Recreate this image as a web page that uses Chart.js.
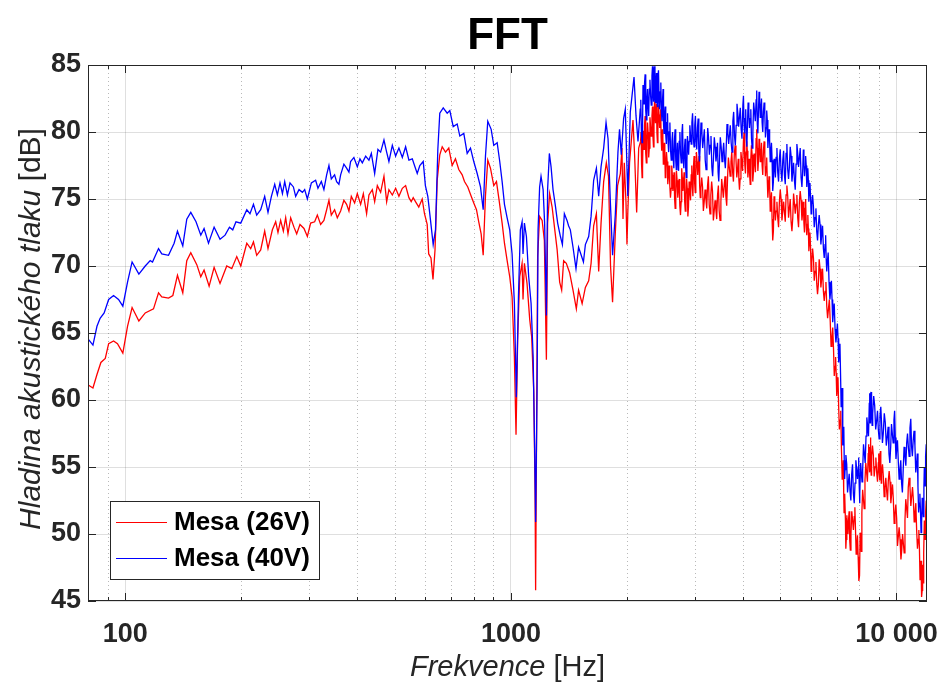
<!DOCTYPE html>
<html lang="cs">
<head>
<meta charset="utf-8">
<title>FFT</title>
<script src="https://cdn.jsdelivr.net/npm/chart.js@4.4.1/dist/chart.umd.min.js"></script>
<style>
  html, body { margin: 0; padding: 0; background: #fff; }
  #fft { display: block; }
</style>
</head>
<body>
<canvas id="fft" width="939" height="684"></canvas>
<script>
'use strict';

// ── DATA ─────────────────────────────────────────────────────

const FREQ_26V = [
  80.3, 82.4, 84.4, 86.4, 88.7, 90.5, 93.2, 95.4, 98.5, 101.3,
  104.1, 108.4, 112.6, 118.3, 121.9, 124.3, 129.4, 132.8, 136.5, 140.9,
  144.3, 147.8, 153.2, 156.9, 160.0, 164.9, 169.9, 176.0, 183.2, 188.8,
  194.5, 199.2, 206.5, 211.4, 214.9, 219.1, 224.4, 229.8, 234.4, 240.6,
  245.4, 248.8, 252.8, 256.9, 260.5, 264.1, 268.4, 273.7, 278.2, 283.7,
  290.6, 296.5, 302.4, 309.7, 314.7, 321.0, 327.3, 332.7, 337.3, 342.1,
  348.9, 354.6, 361.7, 368.8, 374.8, 380.1, 385.5, 393.2, 399.6, 407.6,
  414.2, 422.4, 428.3, 437.0, 443.2, 450.3, 459.3, 468.5, 476.1, 482.6,
  492.5, 502.3, 512.3, 522.8, 533.2, 543.8, 551.3, 557.9, 565.6, 576.8,
  588.7, 596.8, 606.5, 612.0, 620.4, 627.9, 635.5, 643.9, 653.9, 663.4,
  676.6, 690.0, 704.2, 718.0, 732.5, 747.5, 757.8, 772.9, 788.8, 801.0,
  814.1, 825.2, 837.1, 847.4, 858.9, 870.9, 885.0, 902.6, 917.3, 932.0,
  948.9, 962.2, 977.7, 992.9, 1007, 1021, 1031, 1041, 1054, 1069,
  1075, 1084, 1101, 1119, 1132, 1146, 1155, 1159, 1166, 1173,
  1187, 1205, 1221, 1236, 1245, 1260, 1279, 1297, 1318, 1338,
  1354, 1370, 1392, 1420, 1449, 1478, 1498, 1530, 1560, 1591,
  1614, 1639, 1666, 1689, 1713, 1740, 1768, 1791, 1813, 1835,
  1865, 1891, 1922, 1941, 1953, 1968, 1988, 2000, 2010, 2031,
  2052, 2073, 2093, 2119, 2145,
  2169, 2176, 2182, 2189, 2195, 2202, 2208, 2215, 2221, 2229,
  2237, 2245, 2253, 2261, 2269, 2277, 2285, 2294, 2303, 2312,
  2322, 2329, 2336, 2343, 2350, 2357, 2364, 2371, 2378, 2385,
  2392, 2399, 2406, 2414, 2423, 2431, 2440, 2446, 2452, 2458,
  2464, 2471, 2478, 2485, 2493, 2500, 2507, 2514, 2522, 2532,
  2542, 2552, 2562, 2572, 2583, 2593, 2604, 2613, 2622, 2631,
  2640, 2649, 2658, 2667, 2677, 2687, 2698, 2709, 2720, 2731,
  2742, 2753, 2764, 2773, 2783, 2793, 2803, 2813, 2823, 2833,
  2844, 2855, 2866, 2877, 2888, 2899, 2911, 2923, 2935, 2945,
  2955, 2965, 2976, 2986, 2996, 3006, 3017, 3028, 3040, 3052,
  3064, 3075, 3087, 3098, 3110, 3125, 3141, 3156, 3172, 3188,
  3204, 3220, 3236, 3252, 3268, 3284, 3300, 3316, 3333, 3350,
  3367, 3384, 3401, 3418, 3435, 3452, 3469, 3486, 3504, 3521,
  3539, 3556, 3574, 3592, 3610, 3628, 3646, 3665, 3684, 3703,
  3722, 3740, 3759, 3777, 3796, 3815, 3834, 3853, 3873, 3887,
  3902, 3916, 3931, 3950, 3970, 3989, 4009, 4025, 4042, 4058,
  4075, 4089, 4103, 4117, 4132, 4146, 4161, 4175, 4190, 4206,
  4223, 4239, 4256, 4273, 4290, 4307, 4325, 4340, 4355, 4370,
  4385, 4401, 4417, 4433, 4449, 4466, 4483, 4500, 4518, 4536,
  4555, 4573, 4592, 4607, 4623, 4639, 4655, 4671, 4688, 4705,
  4722, 4740, 4758, 4776, 4795, 4814, 4834, 4853, 4873, 4897,
  4921, 4945, 4970, 4995, 5020, 5046, 5072, 5097, 5122, 5147,
  5172, 5197, 5223, 5249, 5275, 5302, 5329, 5356, 5383, 5409,
  5436, 5463, 5490, 5517, 5545, 5572, 5600, 5628, 5657, 5686,
  5715, 5734, 5754, 5773, 5793, 5813, 5833, 5853, 5873, 5890,
  5908, 5926, 5944, 5965, 5986, 6007, 6029, 6060, 6090, 6120,
  6151, 6181, 6211, 6241, 6271, 6303, 6335, 6367, 6399, 6431,
  6464, 6496, 6529, 6562, 6595, 6628, 6662, 6697, 6732, 6767,
  6803, 6834, 6866, 6897, 6929, 6952, 6976, 7000, 7023, 7052,
  7082, 7111, 7141, 7170, 7200, 7231, 7262, 7279, 7296, 7313,
  7330, 7350, 7370, 7390, 7409, 7435, 7460, 7485, 7510, 7537,
  7565, 7592, 7620, 7657, 7695, 7732, 7770, 7800, 7830, 7860,
  7890, 7922, 7955, 7988, 8021, 8049, 8077, 8105, 8133, 8171,
  8209, 8247, 8285, 8325, 8366, 8407, 8448, 8470, 8493, 8515,
  8538, 8559, 8580, 8600, 8621, 8665, 8709, 8753, 8797, 8841,
  8885, 8929, 8974, 8995, 9017, 9039, 9061, 9084, 9107, 9130,
  9153, 9199, 9245, 9291, 9337, 9384, 9431, 9478, 9525, 9573,
  9621, 9670, 9718, 9766, 9814, 9863, 9911, 9960, 10010, 10060,
  10110, 10160, 10215, 10270, 10320, 10370, 10420, 10470, 10520, 10570,
  10625, 10680, 10730, 10785, 10840, 10895, 10950, 11005, 11060, 11115,
  11170, 11225, 11280, 11335, 11390, 11430, 11470, 11510, 11550, 11578,
  11605, 11632, 11660, 11690, 11720, 11750, 11780, 11810, 11840, 11870,
  11900, 11945, 11990,
];

const SPL_26V = [
  61.1, 60.9, 61.9, 62.8, 63.1, 64.2, 64.4, 64.2, 63.5, 65.5,
  66.9, 65.9, 66.5, 66.8, 68.0, 67.7, 67.6, 67.8, 69.3, 68.0,
  70.4, 71.0, 70.1, 69.2, 69.7, 68.5, 69.9, 68.7, 70.0, 69.8,
  70.7, 70.0, 71.7, 71.3, 71.8, 70.8, 71.2, 72.6, 71.3, 72.7,
  73.3, 72.5, 73.4, 72.6, 73.6, 72.4, 73.6, 72.9, 72.4, 73.1,
  72.8, 72.2, 73.2, 73.3, 73.8, 73.1, 73.4, 74.2, 74.9, 73.8,
  74.2, 73.6, 74.1, 74.9, 74.6, 74.1, 75.2, 74.7, 75.4, 74.6,
  75.4, 73.9, 75.3, 75.7, 74.8, 76.0, 75.5, 76.7, 74.8, 75.7,
  75.3, 75.8, 75.2, 75.8, 76.0, 75.1, 74.8, 75.1, 74.8, 74.4,
  75.0, 73.9, 73.1, 70.9, 70.6, 69.0, 71.2, 76.4, 78.3, 78.9,
  78.5, 78.8, 77.5, 78.0, 77.2, 76.8, 76.3, 75.9, 75.2, 74.7,
  74.2, 73.3, 72.4, 70.8, 75.2, 77.9, 77.3, 76.0, 76.3, 74.9,
  73.2, 71.7, 70.4, 69.2, 67.7, 63.2, 57.4, 64.5, 69.2, 70.2,
  67.5, 70.2, 68.7, 66.0, 64.7, 60.7, 53.3, 45.8, 58.3, 70.7,
  73.7, 73.4, 71.9, 63.0, 73.2, 75.4, 74.4, 72.9, 71.2, 68.8,
  68.2, 70.4, 70.2, 69.5, 68.2, 66.8, 68.2, 67.2, 68.4, 68.9,
  70.2, 73.0, 73.9, 69.6, 73.2, 76.3, 77.7, 76.7, 70.0, 67.3,
  72.4, 76.0, 76.9, 78.8, 73.5, 77.7, 74.8, 71.6, 74.0, 77.7,
  79.3, 80.9, 78.3, 74.0, 78.8,
  79.3, 80.0, 77.6, 76.6, 77.3, 80.1, 79.4, 78.7, 80.5, 81.2,
  78.4, 77.7, 79.5, 80.7, 80.0, 78.1, 78.8, 81.1, 80.4, 79.7,
  81.2, 81.9, 79.6, 78.9, 80.5, 82.3, 81.6, 80.7, 81.4, 82.1,
  79.9, 79.2, 80.2, 82.0, 81.3, 80.3, 81.0, 81.7, 79.6, 78.6,
  79.3, 80.2, 79.5, 77.6, 78.3, 79.2, 78.5, 76.6, 77.3, 78.5,
  77.8, 76.1, 76.8, 77.5, 76.0, 75.1, 75.8, 77.5, 76.8, 75.6,
  76.3, 77.0, 75.0, 74.3, 75.3, 77.1, 76.4, 75.1, 75.8, 76.5,
  74.5, 73.8, 74.8, 77.3, 76.6, 75.6, 76.3, 77.0, 74.8, 74.1,
  75.3, 76.5, 75.8, 73.7, 74.4, 76.3, 75.6, 74.9, 76.8, 77.5,
  75.9, 75.2, 77.5, 78.2, 76.2, 75.5, 76.6, 78.5, 77.8, 76.8,
  77.5, 78.2, 76.0, 75.1, 75.8, 76.6, 75.9, 74.1, 74.8, 75.7,
  75.0, 74.3, 76.0, 76.7, 74.6, 73.9, 75.3, 76.3, 75.6, 73.4,
  74.1, 74.9, 74.2, 73.5, 75.3, 76.0, 74.1, 73.4, 74.8, 76.5,
  75.8, 75.1, 76.0, 76.7, 75.2, 74.5, 76.5, 78.1, 77.4, 76.7,
  77.8, 78.5, 77.0, 76.3, 78.3, 79.0, 78.0, 76.6, 77.3, 78.0,
  76.4, 75.7, 76.5, 78.5, 77.8, 77.1, 79.3, 80.0, 77.6, 76.9,
  78.5, 79.3, 78.6, 76.6, 77.3, 78.0, 76.8, 76.1, 78.0, 79.0,
  78.3, 76.3, 77.0, 78.4, 77.7, 77.0, 79.5, 80.2, 78.8, 77.1,
  77.8, 79.5, 78.8, 77.8, 78.5, 79.2, 77.5, 76.8, 78.6, 79.3,
  78.3, 76.7, 77.4, 78.1, 76.4, 75.1, 75.8, 76.7, 76.0, 74.1,
  74.8, 75.5, 73.5, 71.9, 72.6, 75.2, 74.5, 73.4, 74.1, 74.8,
  73.6, 72.9, 74.8, 75.7, 75.0, 73.4, 74.1, 74.8, 74.0, 73.3,
  75.3, 76.0, 75.2, 73.6, 74.3, 75.0, 73.3, 72.6, 73.6, 75.4,
  74.7, 73.9, 74.6, 75.3, 73.6, 72.9, 74.8, 75.6, 74.9, 73.4,
  74.1, 74.8, 73.2, 72.5, 74.3, 75.0, 73.0, 72.3, 73.1, 73.8,
  72.8, 71.1, 71.8, 72.5, 71.4, 69.6, 70.3, 71.3, 70.6, 68.9,
  69.6, 70.3, 68.7, 67.9, 68.6, 70.5, 69.8, 68.4, 69.1, 69.8,
  68.1, 67.4, 68.1, 68.8, 67.0, 66.1, 66.8, 67.5, 65.9, 64.0,
  64.7, 65.4, 63.8, 61.8, 62.5, 63.2, 62.0, 60.3, 61.0, 61.7,
  59.4, 57.8, 58.5, 59.2, 56.3, 54.1, 54.8, 55.5, 53.1, 51.6,
  52.3, 53.0, 51.2, 48.9, 49.6, 51.4, 50.7, 50.0, 51.0, 51.7,
  49.5, 48.8, 50.0, 51.7, 51.0, 50.3, 51.3, 52.0, 50.3, 48.5,
  49.2, 49.9, 48.3, 46.5, 46.9, 50.1, 49.4, 48.7, 51.6, 53.3,
  52.6, 51.9, 54.0, 55.3, 54.6, 53.9, 56.0, 56.7, 55.3, 54.6,
  56.5, 57.2, 55.1, 54.4, 55.8, 56.6, 55.9, 54.3, 55.0, 55.7,
  54.6, 53.9, 55.3, 56.0, 54.7, 54.0, 55.5, 56.2, 55.2, 53.8,
  54.5, 55.2, 54.3, 52.8, 53.5, 54.2, 53.2, 52.5, 54.0, 54.7,
  53.9, 52.3, 53.0, 53.7, 52.6, 50.8, 51.5, 52.2, 51.2, 49.1,
  49.8, 50.5, 49.6, 48.1, 48.8, 50.0, 49.3, 48.6, 51.0, 52.6,
  51.9, 51.2, 53.5, 54.2, 53.5, 52.1, 52.8, 53.5, 52.6, 50.9,
  51.6, 52.3, 50.3, 48.9, 49.6, 50.3, 48.9, 46.6, 47.3, 48.0,
  46.8, 45.3, 45.8, 47.7, 47.0, 46.3, 48.6, 51.0, 50.3, 49.6,
  51.6, 52.5, 51.8,
];

const FREQ_40V = [
  80.3, 82.4, 84.4, 86.0, 88.1, 90.5, 93.2, 96.0, 98.5, 101.3,
  104.1, 108.4, 112.6, 116.0, 117.6, 121.9, 124.3, 129.4, 133.8, 136.5,
  140.9, 144.3, 147.8, 152.5, 156.9, 160.0, 164.3, 169.9, 176.0, 181.4,
  186.2, 189.9, 193.6, 199.2, 206.5, 210.5, 214.9, 219.1, 224.4, 229.8,
  234.4, 239.2, 244.0, 247.9, 251.8, 255.5, 259.0, 263.2, 267.3, 272.8,
  276.5, 282.1, 287.9, 291.8, 296.5, 303.7, 311.5, 315.9, 322.3, 327.3,
  332.7, 337.3, 342.1, 348.9, 353.1, 358.0, 361.7, 368.8, 374.8, 380.1,
  383.9, 391.5, 399.6, 405.9, 411.7, 420.0, 428.3, 434.5, 443.2, 451.9,
  459.3, 468.5, 476.1, 482.6, 492.5, 502.3, 512.3, 522.8, 533.2, 543.8,
  554.9, 562.3, 571.5, 580.4, 592.3, 600.0, 608.8, 618.7, 628.6, 637.4,
  646.3, 653.9, 667.5, 683.5, 694.3, 708.5, 725.5, 737.0, 754.7, 770.1,
  785.5, 801.0, 817.5, 833.8, 847.4, 859.0, 870.9, 888.8, 902.6, 921.1,
  935.4, 948.9, 962.2, 977.7, 992.9, 1007, 1021, 1033, 1046, 1058,
  1069, 1075, 1084, 1097, 1112, 1128, 1142, 1153, 1159, 1169,
  1176, 1187, 1197, 1212, 1223, 1236, 1245, 1258, 1271, 1286,
  1304, 1322, 1344, 1360, 1376, 1398, 1411, 1426, 1449, 1475,
  1498, 1530, 1542, 1560, 1591, 1614, 1639, 1666, 1689, 1713,
  1740, 1765, 1786, 1811, 1835, 1865, 1895, 1913, 1933, 1960,
  1980, 2010, 2040, 2061, 2086, 2111, 2136,
  2165, 2172, 2180, 2188, 2195, 2201, 2208, 2214, 2221, 2229,
  2237, 2245, 2253, 2261, 2269, 2277, 2285, 2294, 2303, 2312,
  2322, 2329, 2336, 2343, 2350, 2357, 2364, 2371, 2378, 2385,
  2392, 2399, 2406, 2414, 2423, 2431, 2440, 2448, 2457, 2465,
  2474, 2481, 2488, 2495, 2503, 2512, 2521, 2530, 2540, 2548,
  2557, 2565, 2574, 2584, 2595, 2605, 2616, 2626, 2636, 2646,
  2657, 2666, 2676, 2685, 2695, 2704, 2713, 2722, 2732, 2743,
  2754, 2765, 2776, 2787, 2798, 2809, 2820, 2830, 2840, 2850,
  2861, 2870, 2880, 2890, 2900, 2911, 2923, 2935, 2947, 2959,
  2972, 2985, 2998, 3010, 3022, 3034, 3047, 3059, 3072, 3084,
  3097, 3112, 3128, 3143, 3159, 3175, 3191, 3207, 3224, 3239,
  3255, 3271, 3287, 3303, 3320, 3336, 3352, 3369, 3386, 3403,
  3421, 3434, 3447, 3460, 3474, 3492, 3510, 3528, 3546, 3563,
  3581, 3599, 3617, 3635, 3653, 3671, 3689, 3707, 3726, 3745,
  3764, 3782, 3801, 3820, 3839, 3858, 3877, 3896, 3915, 3935,
  3955, 3975, 3996, 4010, 4023, 4036, 4050, 4064, 4078, 4092,
  4107, 4123, 4140, 4156, 4172, 4190, 4207, 4225, 4242, 4262,
  4283, 4304, 4325, 4340, 4355, 4370, 4385, 4401, 4417, 4433,
  4449, 4466, 4483, 4500, 4518, 4536, 4555, 4573, 4592, 4607,
  4623, 4639, 4655, 4671, 4688, 4705, 4722, 4740, 4758, 4776,
  4795, 4814, 4834, 4853, 4873, 4897, 4921, 4945, 4970, 4995,
  5020, 5046, 5072, 5097, 5122, 5147, 5172, 5197, 5223, 5249,
  5275, 5302, 5329, 5356, 5383, 5409, 5436, 5463, 5490, 5517,
  5545, 5572, 5600, 5628, 5657, 5686, 5715, 5734, 5754, 5773,
  5793, 5813, 5833, 5853, 5873, 5890, 5908, 5926, 5944, 5965,
  5986, 6007, 6029, 6060, 6090, 6120, 6151, 6181, 6211, 6241,
  6271, 6303, 6335, 6367, 6399, 6431, 6464, 6496, 6529, 6551,
  6573, 6595, 6617, 6651, 6685, 6719, 6753, 6780, 6806, 6833,
  6860, 6895, 6930, 6965, 7000, 7027, 7055, 7082, 7110, 7135,
  7160, 7186, 7212, 7230, 7247, 7265, 7282, 7301, 7320, 7338,
  7357, 7393, 7430, 7466, 7502, 7540, 7578, 7616, 7654, 7692,
  7731, 7770, 7808, 7846, 7885, 7923, 7961, 7980, 8000, 8021,
  8042, 8075, 8107, 8140, 8172, 8213, 8255, 8296, 8337, 8378,
  8420, 8461, 8502, 8516, 8530, 8545, 8560, 8589, 8618, 8647,
  8676, 8728, 8780, 8833, 8886, 8930, 8973, 9017, 9061, 9106,
  9150, 9196, 9242, 9298, 9354, 9410, 9467, 9515, 9563, 9611,
  9660, 9707, 9755, 9803, 9851, 9890, 9930, 9970, 10010, 10060,
  10110, 10160, 10210, 10260, 10310, 10360, 10410, 10465, 10520, 10575,
  10630, 10682, 10735, 10787, 10840, 10892, 10945, 10997, 11050, 11107,
  11165, 11222, 11280, 11325, 11370, 11415, 11460, 11500, 11540, 11580,
  11620, 11660, 11700, 11740, 11780, 11810, 11840, 11870, 11900, 11945,
  11990,
];

const SPL_40V = [
  64.5, 64.1, 65.5, 66.1, 66.5, 67.5, 67.8, 67.5, 67.0, 68.8,
  70.3, 69.4, 70.0, 70.4, 70.3, 71.3, 70.9, 70.8, 71.7, 72.6,
  71.5, 73.5, 74.0, 73.3, 72.3, 72.8, 71.7, 72.9, 72.0, 72.3,
  72.9, 72.7, 73.3, 73.2, 74.2, 73.9, 74.6, 73.8, 74.2, 75.2,
  74.0, 75.2, 76.1, 75.3, 76.2, 75.4, 76.3, 75.3, 76.2, 75.9,
  75.2, 75.7, 75.5, 75.7, 75.0, 76.2, 76.4, 75.8, 76.3, 75.7,
  76.8, 77.5, 76.5, 76.8, 76.3, 76.1, 76.8, 77.6, 77.3, 77.0,
  77.8, 78.1, 77.4, 78.0, 77.7, 78.2, 77.9, 78.4, 76.9, 78.7,
  78.5, 79.4, 78.5, 77.8, 79.0, 78.2, 78.8, 78.1, 78.9, 77.9,
  78.0, 77.5, 76.9, 77.5, 77.8, 76.0, 75.2, 73.4, 71.6, 72.7,
  78.7, 81.4, 81.8, 81.4, 81.6, 80.4, 80.6, 79.7, 79.9, 78.4,
  78.8, 77.8, 76.9, 75.9, 74.2, 78.2, 80.8, 80.2, 79.0, 79.2,
  77.8, 76.3, 74.6, 73.6, 72.7, 70.9, 67.2, 60.2, 67.7, 72.7,
  73.3, 70.9, 73.2, 72.2, 69.2, 67.2, 63.2, 55.8, 50.9, 60.7,
  72.7, 75.9, 76.7, 75.7, 73.2, 66.3, 75.7, 78.4, 77.4, 75.7,
  74.5, 73.2, 72.2, 71.6, 73.9, 73.4, 73.0, 72.7, 71.4, 69.8,
  71.4, 70.6, 70.3, 71.6, 72.2, 73.7, 76.4, 77.3, 75.2, 77.4,
  78.8, 80.7, 79.5, 74.8, 70.8, 73.8, 78.5, 80.2, 78.3, 81.0,
  81.7, 75.2, 81.5, 82.7, 84.1, 81.2, 79.3,
  81.7, 82.4, 79.9, 79.2, 80.5, 83.5, 82.8, 82.1, 83.6, 84.3,
  81.6, 80.9, 82.5, 83.2, 81.9, 81.2, 83.2, 83.9, 82.7, 82.0,
  84.2, 84.9, 83.0, 82.3, 84.5, 84.9, 82.9, 82.2, 83.7, 84.4,
  82.6, 81.9, 84.1, 84.6, 82.4, 81.7, 83.0, 83.7, 81.5, 80.8,
  82.5, 83.2, 80.6, 79.9, 81.2, 81.9, 79.8, 79.1, 80.7, 81.4,
  79.2, 78.5, 80.0, 80.7, 78.6, 77.9, 79.3, 80.0, 78.0, 77.3,
  79.5, 80.2, 77.9, 77.2, 78.5, 79.2, 77.8, 77.1, 79.3, 80.0,
  78.4, 77.7, 79.9, 80.6, 78.0, 77.3, 78.8, 79.5, 77.3, 76.6,
  77.8, 79.7, 79.0, 78.3, 79.3, 80.5, 79.8, 79.1, 80.7, 81.4,
  79.6, 78.9, 80.5, 81.2, 79.4, 78.7, 80.3, 81.0, 78.5, 77.8,
  79.0, 80.7, 80.0, 78.8, 79.5, 80.2, 77.9, 77.2, 78.5, 80.3,
  79.6, 78.3, 79.0, 79.7, 77.4, 76.7, 78.0, 79.6, 78.9, 77.8,
  78.5, 79.2, 77.0, 76.3, 77.7, 79.6, 78.9, 77.8, 78.5, 79.2,
  78.0, 77.3, 78.8, 80.6, 79.9, 79.1, 79.8, 80.5, 79.2, 78.5,
  80.8, 81.5, 79.7, 79.0, 80.5, 82.1, 81.4, 80.4, 81.1, 81.8,
  80.2, 79.5, 82.0, 82.7, 80.6, 79.9, 81.0, 81.7, 79.6, 78.9,
  80.5, 82.2, 81.5, 80.3, 81.0, 81.7, 79.5, 78.8, 80.0, 82.2,
  81.5, 80.8, 82.4, 83.1, 80.6, 79.9, 81.5, 83.0, 82.3, 81.1,
  81.8, 82.5, 80.7, 80.0, 81.5, 82.2, 81.3, 79.6, 80.3, 81.6,
  80.9, 78.8, 79.5, 80.2, 79.4, 77.8, 78.5, 79.2, 77.9, 75.6,
  76.3, 78.0, 77.3, 76.6, 78.1, 78.8, 77.0, 76.3, 78.0, 78.7,
  77.0, 76.3, 77.9, 78.6, 76.8, 76.1, 78.4, 79.1, 77.2, 76.5,
  77.4, 78.9, 78.2, 76.3, 77.0, 77.7, 76.4, 75.7, 77.6, 79.1,
  78.4, 77.4, 78.1, 78.8, 76.6, 75.9, 77.3, 78.7, 78.0, 76.7,
  77.4, 78.2, 77.5, 75.9, 76.6, 77.3, 76.4, 74.8, 75.5, 76.2,
  75.2, 73.9, 74.6, 75.3, 74.4, 72.9, 73.6, 74.3, 72.6, 71.9,
  73.0, 73.8, 73.1, 71.6, 72.3, 73.0, 71.3, 70.6, 71.6, 72.3,
  70.5, 69.6, 70.3, 71.0, 68.8, 67.5, 68.2, 68.9, 67.5, 65.8,
  66.5, 67.2, 65.3, 64.3, 65.0, 65.7, 64.6, 62.8, 63.5, 64.2,
  62.0, 59.5, 60.2, 60.9, 58.1, 56.6, 57.3, 58.0, 55.5, 54.1,
  54.8, 55.9, 55.2, 53.1, 53.8, 54.5, 53.2, 52.5, 54.5, 55.2,
  53.0, 52.3, 53.8, 55.5, 54.8, 54.1, 55.0, 55.7, 53.9, 52.3,
  53.0, 55.3, 54.6, 53.9, 54.8, 56.7, 56.0, 55.3, 57.3, 58.7,
  58.0, 57.3, 59.8, 60.5, 59.0, 58.3, 60.3, 60.6, 58.8, 58.1,
  59.0, 60.3, 59.6, 57.8, 58.5, 59.2, 57.8, 57.1, 58.8, 59.5,
  58.2, 56.8, 57.5, 59.0, 58.3, 56.6, 57.3, 58.0, 56.0, 55.3,
  56.5, 58.2, 57.5, 56.8, 58.5, 59.2, 57.2, 55.6, 56.3, 57.0,
  55.4, 54.1, 54.8, 55.5, 53.8, 53.1, 54.8, 56.5, 55.8, 55.1,
  56.8, 57.5, 56.5, 55.8, 57.9, 58.6, 56.5, 55.8, 57.0, 57.7,
  56.6, 54.6, 55.3, 56.0, 53.5, 51.6, 52.3, 53.0, 51.8, 50.1,
  50.8, 52.7, 52.0, 51.3, 53.5, 55.0, 54.3, 53.6, 55.8, 56.7,
  56.0,
];

const SERIES_LABELS = ['Mesa (26V)', 'Mesa (40V)'];
const SERIES_COLORS = ['#ff0000', '#0000ff'];

const X_MIN = 80, X_MAX = 12000;
const X_MAJOR = [100, 1000, 10000];
const X_MINOR = [90, 200, 300, 400, 500, 600, 700, 800, 900,
                 2000, 3000, 4000, 5000, 6000, 7000, 8000, 9000];
const Y_MIN = 45, Y_MAX = 85, Y_STEP = 5;

// ── STYLE ────────────────────────────────────────────────────

const FONT       = '"Liberation Sans", Arial, Helvetica, sans-serif';
const AXIS_COLOR = '#262626';
const GRID_MAJOR = 'rgba(38,38,38,0.15)';
const GRID_MINOR = 'rgba(38,38,38,0.32)';
const TICK_FONT  = { family: FONT, size: 27, weight: 'bold' };

const toPoints = (xs, ys) => xs.map((x, i) => ({ x, y: ys[i] }));

// ── MATLAB-LIKE AXES DECORATION ──────────────────────────────

const matlabAxes = {
  id: 'matlabAxes',
  beforeDatasetsDraw(chart) {
    const { ctx, chartArea: a, scales: { x } } = chart;
    ctx.save();
    ctx.strokeStyle = GRID_MINOR;
    ctx.lineWidth = 1;
    ctx.setLineDash([1, 3]);
    X_MINOR.forEach(v => {
      const px = Math.round(x.getPixelForValue(v)) + 0.5;
      ctx.beginPath();
      ctx.moveTo(px, a.top);
      ctx.lineTo(px, a.bottom);
      ctx.stroke();
    });
    ctx.restore();
  },
  afterDraw(chart) {
    const { ctx, chartArea: a, scales: { x, y } } = chart;
    ctx.save();

    // box
    ctx.strokeStyle = AXIS_COLOR;
    ctx.lineWidth = 1;
    ctx.strokeRect(a.left + 0.5, a.top + 0.5, a.right - a.left - 1, a.bottom - a.top - 1);

    // inward ticks
    ctx.beginPath();
    const xTick = (v, len) => {
      const px = Math.round(x.getPixelForValue(v)) + 0.5;
      ctx.moveTo(px, a.bottom); ctx.lineTo(px, a.bottom - len);
      ctx.moveTo(px, a.top);    ctx.lineTo(px, a.top + len);
    };
    X_MAJOR.forEach(v => xTick(v, 8));
    X_MINOR.forEach(v => xTick(v, 4));
    for (let v = Y_MIN; v <= Y_MAX; v += Y_STEP) {
      const py = Math.round(y.getPixelForValue(v)) + 0.5;
      ctx.moveTo(a.left, py);  ctx.lineTo(a.left + 8, py);
      ctx.moveTo(a.right, py); ctx.lineTo(a.right - 8, py);
    }
    ctx.stroke();

    // title
    const cx = (a.left + a.right) / 2;
    ctx.fillStyle = '#000';
    ctx.textAlign = 'center';
    ctx.textBaseline = 'alphabetic';
    ctx.font = `bold 44px ${FONT}`;
    ctx.fillText('FFT', cx, 49);

    // axis titles: italic quantity + upright unit
    const mixed = (italic, upright, px, py, size) => {
      ctx.font = `italic ${size}px ${FONT}`;
      const w1 = ctx.measureText(italic).width;
      ctx.font = `${size}px ${FONT}`;
      const w2 = ctx.measureText(upright).width;
      const start = px - (w1 + w2) / 2;
      ctx.textAlign = 'left';
      ctx.font = `italic ${size}px ${FONT}`;
      ctx.fillText(italic, start, py);
      ctx.font = `${size}px ${FONT}`;
      ctx.fillText(upright, start + w1, py);
    };
    ctx.fillStyle = AXIS_COLOR;
    mixed('Frekvence ', '[Hz]', cx, 676, 29);

    ctx.save();
    ctx.translate(40, (a.top + a.bottom) / 2 - 4);
    ctx.rotate(-Math.PI / 2);
    mixed('Hladina akustického tlaku ', '[dB]', 0, 0, 30);
    ctx.restore();

    // legend box
    const lx = 110, ly = 501, lw = 209, lh = 78;
    ctx.fillStyle = '#fff';
    ctx.fillRect(lx, ly, lw, lh);
    ctx.strokeStyle = AXIS_COLOR;
    ctx.strokeRect(lx + 0.5, ly + 0.5, lw, lh);
    SERIES_LABELS.forEach((label, i) => {
      const rowY = ly + 21 + i * 36;
      ctx.strokeStyle = SERIES_COLORS[i];
      ctx.lineWidth = 1;
      ctx.beginPath();
      ctx.moveTo(lx + 6, rowY + 0.5);
      ctx.lineTo(lx + 57, rowY + 0.5);
      ctx.stroke();
      ctx.fillStyle = '#000';
      ctx.font = `bold 26px ${FONT}`;
      ctx.textAlign = 'left';
      ctx.textBaseline = 'middle';
      ctx.fillText(label, lx + 64, rowY + 1);
    });

    ctx.restore();
  },
};

// ── CHART ────────────────────────────────────────────────────

new Chart(document.getElementById('fft'), {
  type: 'line',
  data: {
    datasets: [
      {
        label: SERIES_LABELS[0],
        data: toPoints(FREQ_26V, SPL_26V),
        borderColor: SERIES_COLORS[0],
        borderWidth: 1.3,
        pointRadius: 0,
        tension: 0,
        order: 2,
      },
      {
        label: SERIES_LABELS[1],
        data: toPoints(FREQ_40V, SPL_40V),
        borderColor: SERIES_COLORS[1],
        borderWidth: 1.3,
        pointRadius: 0,
        tension: 0,
        order: 1,
      },
    ],
  },
  options: {
    responsive: false,
    animation: false,
    devicePixelRatio: 1,
    layout: { padding: { top: 65, right: 12, bottom: 0, left: 0 } },
    plugins: {
      legend: { display: false },
      title: { display: false },
      tooltip: { enabled: false },
    },
    scales: {
      x: {
        type: 'logarithmic',
        min: X_MIN,
        max: X_MAX,
        afterBuildTicks: s => { s.ticks = X_MAJOR.map(v => ({ value: v })); },
        afterFit: s => { s.height = 83; s.paddingLeft = 0; s.paddingRight = 0; },
        ticks: {
          autoSkip: false,
          maxRotation: 0,
          padding: 17,
          color: AXIS_COLOR,
          font: TICK_FONT,
          callback: v => v >= 10000 ? String(v).replace(/\B(?=(\d{3})+(?!\d))/g, ' ') : String(v),
        },
        grid: { color: GRID_MAJOR, drawTicks: false },
        border: { display: false },
      },
      y: {
        min: Y_MIN,
        max: Y_MAX,
        afterFit: s => { s.width = 88; },
        ticks: { stepSize: Y_STEP, padding: 7, color: AXIS_COLOR, font: TICK_FONT },
        grid: { color: GRID_MAJOR, drawTicks: false },
        border: { display: false },
      },
    },
  },
  plugins: [matlabAxes],
});
</script>
</body>
</html>
